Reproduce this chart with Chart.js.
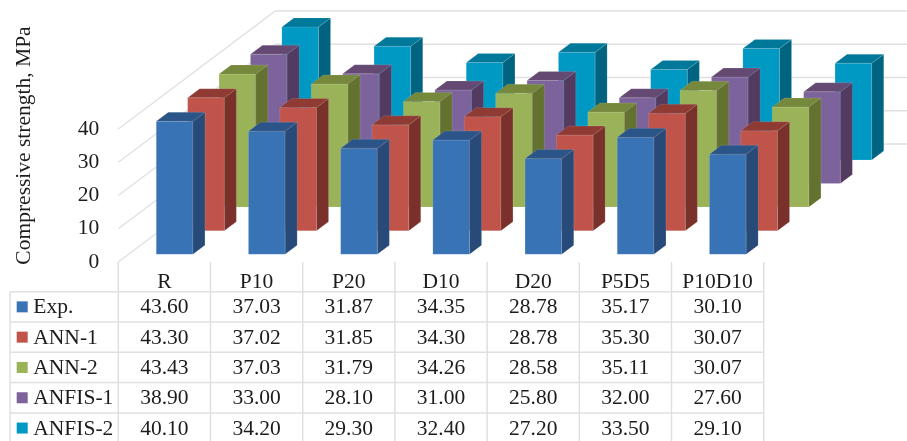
<!DOCTYPE html>
<html>
<head>
<meta charset="utf-8">
<title>Compressive strength</title>
<script src="https://cdn.jsdelivr.net/npm/chart.js@4"></script>
<style>
  html, body { margin: 0; padding: 0; background: #fff; overflow: hidden; }
  #grafico { display: block; }
</style>
</head>
<body>
<canvas id="grafico" width="907" height="441"></canvas>
<script>
const categories = ["R", "P10", "P20", "D10", "D20", "P5D5", "P10D10"];
const seriesNames = ["Exp.", "ANN-1", "ANN-2", "ANFIS-1", "ANFIS-2"];

const expValues = [43.60, 37.03, 31.87, 34.35, 28.78, 35.17, 30.10];
const ann1Values = [43.30, 37.02, 31.85, 34.30, 28.78, 35.30, 30.07];
const ann2Values = [43.43, 37.03, 31.79, 34.26, 28.58, 35.11, 30.07];
const anfis1Values = [38.90, 33.00, 28.10, 31.00, 25.80, 32.00, 27.60];
const anfis2Values = [40.10, 34.20, 29.30, 32.40, 27.20, 33.50, 29.10];
const allValues = [expValues, ann1Values, ann2Values, anfis1Values, anfis2Values];

const yTicks = [0, 10, 20, 30, 40];
const yTitle = "Compressive strength, MPa";

// front, side and top face of each series
const faceColors = [
    ["#3873b6", "#274a78", "#2b5488"],
    ["#c0544b", "#7a312b", "#8f3a33"],
    ["#9bb358", "#64722f", "#75883c"],
    ["#7d639b", "#523a60", "#644a73"],
    ["#0099c3", "#006480", "#00789a"]
];

const FONT = '"Liberation Serif", "Times New Roman", serif';
const TEXT_COLOR = "#1c1c1c";
const GRID_COLOR = "#e0e0e0";

// oblique projection of the floor
const ROW_DX = 31.4;
const ROW_DY = -23.6;
const INSET_DX = 10.2;
const INSET_DY = -7.7;
const BAR_DX = 12;
const BAR_DY = -9;

// data table
const TABLE_LEFT = 10;
const TABLE_TOP = 291.7;
const ROW_H = 30.3;

function quad(ctx, pts, color) {
    ctx.beginPath();
    ctx.moveTo(pts[0][0], pts[0][1]);
    for (let i = 1; i < pts.length; i++) ctx.lineTo(pts[i][0], pts[i][1]);
    ctx.closePath();
    ctx.fillStyle = color;
    ctx.fill();
    // faint light edge around every face
    ctx.strokeStyle = "rgba(255,255,255,0.15)";
    ctx.lineWidth = 0.8;
    ctx.stroke();
}

function dibujarParedes(chart) {
    const ctx = chart.ctx;
    const area = chart.chartArea;
    const backDx = ROW_DX * seriesNames.length;
    const backDy = ROW_DY * seriesNames.length;

    ctx.save();
    ctx.strokeStyle = GRID_COLOR;
    ctx.lineWidth = 1.3;
    yTicks.forEach(t => {
        const y = chart.scales.y.getPixelForValue(t);
        ctx.beginPath();
        ctx.moveTo(area.left, y);
        ctx.lineTo(area.left + backDx, y + backDy);
        ctx.lineTo(area.right + backDx, y + backDy);
        ctx.stroke();
    });
    ctx.restore();
}

function dibujarBarras(chart) {
    const ctx = chart.ctx;
    const area = chart.chartArea;

    // back row first so the nearer rows cover it
    for (let s = seriesNames.length - 1; s >= 0; s--) {
        const meta = chart.getDatasetMeta(s);
        const ox = INSET_DX + ROW_DX * s;
        const oy = INSET_DY + ROW_DY * s;
        const colors = faceColors[s];

        meta.data.forEach(bar => {
            const left = bar.x - bar.width / 2 + ox;
            const right = bar.x + bar.width / 2 + ox;
            const bottom = bar.base + oy;
            // the value axis stops at 40, taller bars are cut there
            const top = Math.max(bar.y, area.top) + oy;

            quad(ctx, [[left, bottom], [right, bottom], [right, top], [left, top]], colors[0]);
            quad(ctx, [[right, bottom], [right + BAR_DX, bottom + BAR_DY], [right + BAR_DX, top + BAR_DY], [right, top]], colors[1]);
            quad(ctx, [[left, top], [right, top], [right + BAR_DX, top + BAR_DY], [left + BAR_DX, top + BAR_DY]], colors[2]);
        });
    }
}

function dibujarTabla(chart) {
    const ctx = chart.ctx;
    const area = chart.chartArea;
    const xScale = chart.scales.x;
    const stepX = (area.right - area.left) / categories.length;
    const bottom = chart.height;

    ctx.save();
    ctx.strokeStyle = GRID_COLOR;
    ctx.lineWidth = 1.5;

    for (let r = 0; r < seriesNames.length; r++) {
        const y = TABLE_TOP + ROW_H * r;
        ctx.beginPath();
        ctx.moveTo(TABLE_LEFT, y);
        ctx.lineTo(area.right, y);
        ctx.stroke();
    }
    ctx.beginPath();
    ctx.moveTo(TABLE_LEFT, TABLE_TOP);
    ctx.lineTo(TABLE_LEFT, bottom);
    ctx.stroke();
    for (let c = 0; c <= categories.length; c++) {
        const x = area.left + stepX * c;
        ctx.beginPath();
        ctx.moveTo(x, area.bottom);
        ctx.lineTo(x, bottom);
        ctx.stroke();
    }

    ctx.font = "21.5px " + FONT;
    ctx.fillStyle = TEXT_COLOR;
    ctx.textBaseline = "middle";
    seriesNames.forEach((name, r) => {
        const y = TABLE_TOP + ROW_H * (r + 0.5);
        ctx.fillStyle = faceColors[r][0];
        ctx.fillRect(16.7, y - 5.5, 11, 11);
        ctx.fillStyle = TEXT_COLOR;
        ctx.textAlign = "left";
        ctx.fillText(name, 33.3, y + 1);
        ctx.textAlign = "center";
        allValues[r].forEach((v, c) => {
            ctx.fillText(v.toFixed(2), xScale.getPixelForTick(c), y + 1);
        });
    });

    // axis title runs higher than the plot box
    ctx.translate(24, 145.5);
    ctx.rotate(-Math.PI / 2);
    ctx.textAlign = "center";
    ctx.fillText(yTitle, 0, 0);
    ctx.restore();
}

const plugin3d = {
    id: "barras3d",
    beforeDatasetsDraw(chart) {
        dibujarParedes(chart);
        dibujarBarras(chart);
        return false;
    },
    afterDraw(chart) {
        dibujarTabla(chart);
    }
};

new Chart(document.getElementById("grafico"), {
    type: "bar",
    data: {
        labels: categories,
        datasets: seriesNames.map((name, i) => ({
            label: name,
            data: allValues[i],
            backgroundColor: faceColors[i][0]
        }))
    },
    options: {
        responsive: false,
        animation: false,
        layout: { padding: { top: 129, right: 143.3, left: 0, bottom: 0 } },
        datasets: { bar: { grouped: false, categoryPercentage: 1, barPercentage: 0.398 } },
        plugins: { legend: { display: false }, tooltip: { enabled: false } },
        scales: {
            x: {
                grid: { display: false, drawTicks: false },
                border: { display: false },
                ticks: {
                    color: TEXT_COLOR,
                    font: { family: FONT, size: 21.5 },
                    padding: 7,
                    maxRotation: 0,
                    autoSkip: false
                },
                afterFit(scale) { scale.height = 179; }
            },
            y: {
                min: 0,
                max: 40,
                grid: { display: false, drawTicks: false },
                border: { display: false },
                ticks: {
                    color: TEXT_COLOR,
                    font: { family: FONT, size: 21.5 },
                    padding: 19,
                    stepSize: 10
                },
                afterFit(scale) { scale.width = 118.3; }
            }
        }
    },
    plugins: [plugin3d]
});
</script>
</body>
</html>
